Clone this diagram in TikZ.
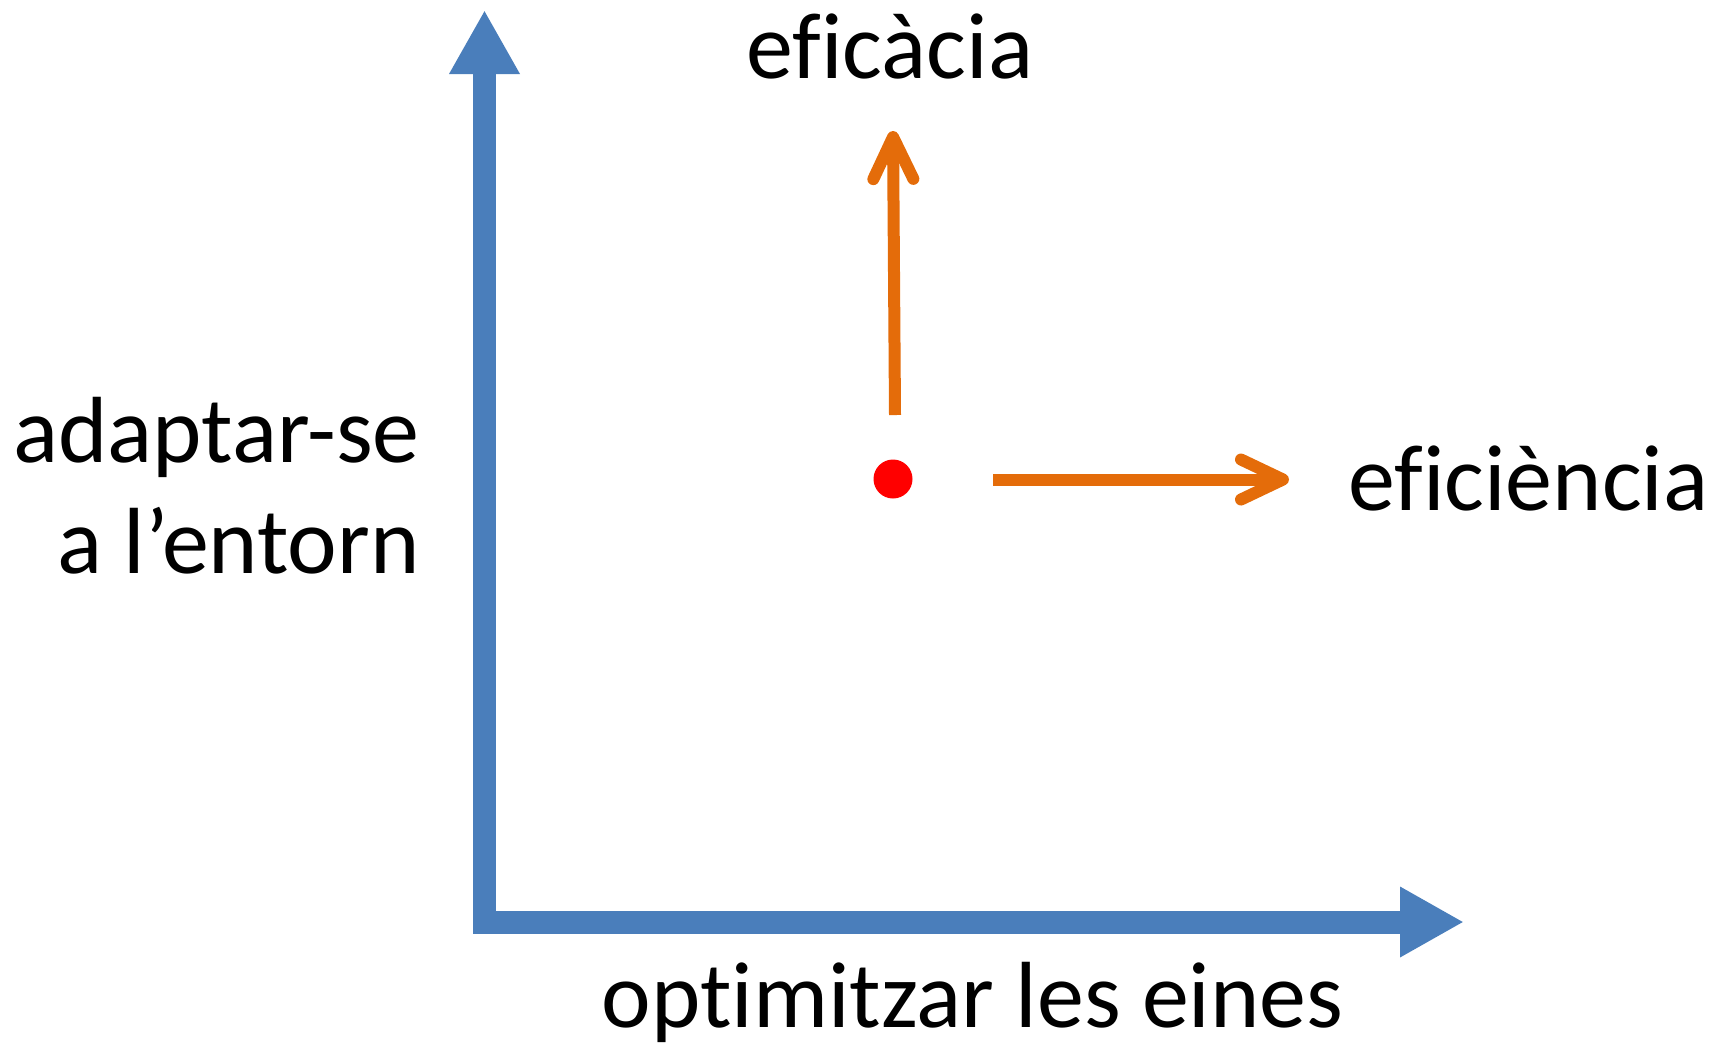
\documentclass[tikz,border=0pt]{standalone}
\usepackage{fontspec}
\setmainfont{Carlito}[Ligatures=NoCommon]
\usepackage{tikz}
\usetikzlibrary{arrows.meta}
\definecolor{axisblue}{HTML}{4A7EBB}
\definecolor{moveorange}{HTML}{E46C0A}

\begin{document}
\begin{tikzpicture}[x=0.5pt, y=-0.5pt,
		axis/.style={draw=axisblue, line width=11.5pt, line join=miter, {Triangle[length=32pt, width=33pt]}-{Triangle[length=32pt, width=33pt]}},
		move/.style={draw=moveorange, line width=6pt, -{Straight Barb[length=21pt, width=20pt, round]}},
		lbl/.style={inner sep=0pt, font=\fontsize{47}{55.5}\selectfont}]
	\useasboundingbox (0, 0) rectangle (1719, 1046);
		\node (top) at (484.5, 10) {};
		\node (origin) at (484.5, 922) {};
		\node (right) at (1464, 922) {};
		\draw[axis] (top.center) to (origin.center) to (right.center);
		\node (dot) [circle, fill=red, inner sep=0pt, minimum size=19.5pt] at (893, 479) {};
		\coordinate (upfoot) at (895, 415);
		\coordinate (uptip) at (893, 131);
		\coordinate (rightfoot) at (993, 479.5);
		\coordinate (righttip) at (1289, 479.5);
		\draw[move] (upfoot) to (uptip);
		\draw[move] (rightfoot) to (righttip);
		\node[lbl, anchor=base] (eficacia) at (890, 78) {eficàcia};
		\node[lbl, anchor=base west] (eficiencia) at (1348, 510) {eficiència};
		\node[lbl, anchor=base east, align=right] (adapt) at (420, 573) {adaptar-se\\a l’entorn};
		\node[lbl, anchor=base] (optim) at (972.5, 1027) {optimitzar les eines};
\end{tikzpicture}
\end{document}
